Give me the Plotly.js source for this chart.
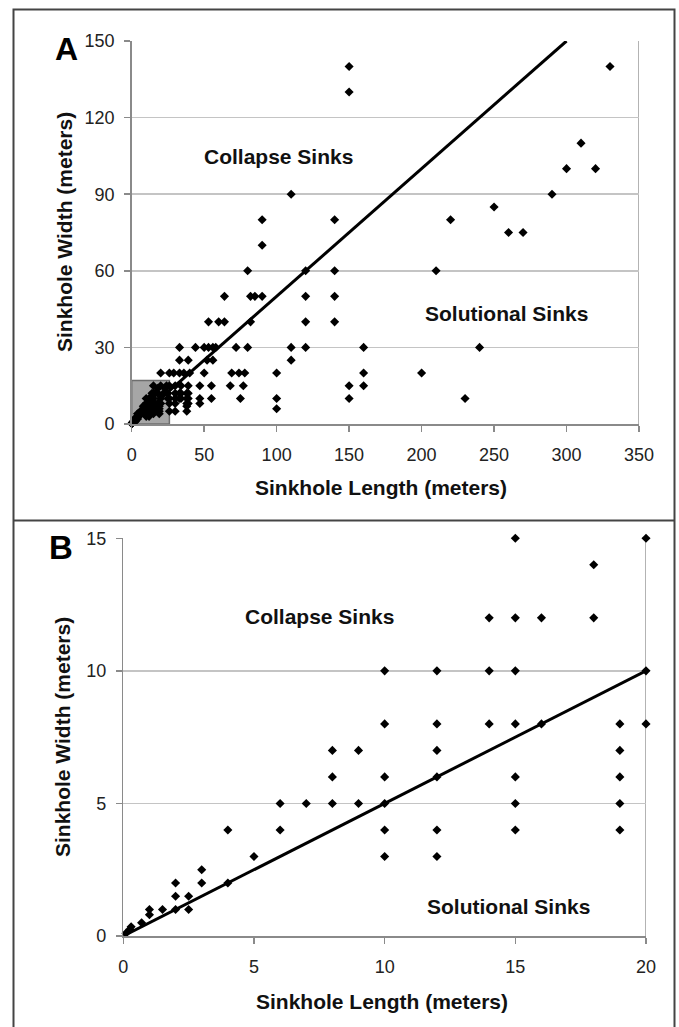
<!DOCTYPE html>
<html>
<head>
<meta charset="utf-8">
<script src="https://cdn.plot.ly/plotly-3.0.1.min.js"></script>
<style>html,body{margin:0;padding:0;background:#fff;}#chart{width:679px;height:1027px;}</style>
</head>
<body>
<div id="chart"></div>
<script>
// Panel B data (small sinkholes, meters)
const lengthB = [0.1,0.25,0.3,0.7,1,1,1.5,2,2,2,2.5,2.5,3,3,4,4,5,6,6,7,8,8,8,9,9,
  10,10,10,10,10,10,12,12,12,12,12,12,14,14,14,15,15,15,15,15,15,15,16,16,18,18,19,19,19,19,19,20,20,20];
const widthB  = [0.1,0.25,0.35,0.5,1,0.8,1,1,1.5,2,1.5,1,2,2.5,2,4,3,4,5,5,5,6,7,5,7,
  3,4,5,6,8,10,3,4,6,7,8,10,8,10,12,4,5,6,8,10,12,15,8,12,12,14,4,5,6,7,8,8,10,15];

// Additional panel A data (larger sinkholes, meters)
const lengthExtra = [22,23,24,25,25,26,26,26,
  20,26,29,33,36,40,50,69,74,78,100,
  30,34,39,47,55,68,77,150,160,
  30,33,34,38,39,
  26,30,33,34,38,39,47,55,75,100,150,230,
  30,38,39,47,38,38,30,100,
  33,39,52,56,110,
  33,44,50,53,56,58,72,80,110,120,160,240,
  53,60,64,82,120,140,
  64,82,85,90,120,140,
  80,120,140,210,
  90,90,140,110,220,250,260,270,290,300,320,310,150,150,330,200,160];
const widthExtra = [12,14,15,10,12,5,8,15,
  20,20,20,20,20,20,20,20,20,20,20,
  15,15,15,15,15,15,15,15,15,
  12,12,12,12,12,
  10,10,10,10,10,10,10,10,10,10,10,10,
  8,8,8,8,7,5,5,6,
  25,25,25,25,25,
  30,30,30,30,30,30,30,30,30,30,30,30,
  40,40,40,40,40,40,
  50,50,50,50,50,50,
  60,60,60,60,
  70,80,80,90,80,85,75,75,90,100,100,110,130,140,140,20,20];

const lengthA = lengthB.concat(lengthExtra);
const widthA  = widthB.concat(widthExtra);

// Dividing lines (width = 0.5 x length)
const divLineAx = [0, 300], divLineAy = [0, 150];
const divLineBx = [0, 20],  divLineBy = [0, 10];

// Highlight box in panel A (extent of panel B)
const boxX = [0, 26], boxY = [0, 17];

const ticksAx = [0,50,100,150,200,250,300,350];
const ticksAy = [0,30,60,90,120,150];
const ticksBx = [0,5,10,15,20];
const ticksBy = [0,5,10,15];

const FONT = '"Liberation Sans", Arial, sans-serif';
const W = 679, H = 1027;
const px = v => v / W, py = v => 1 - v / H;

const marker = {symbol:'diamond', size:7, color:'#000'};
const traces = [
  {x:lengthA, y:widthA, xaxis:'x', yaxis:'y', mode:'markers', type:'scatter', marker:marker, cliponaxis:false},
  {x:divLineAx, y:divLineAy, xaxis:'x', yaxis:'y', mode:'lines', type:'scatter', line:{color:'#000', width:3}, cliponaxis:false},
  {x:lengthB, y:widthB, xaxis:'x2', yaxis:'y2', mode:'markers', type:'scatter', marker:marker, cliponaxis:false},
  {x:divLineBx, y:divLineBy, xaxis:'x2', yaxis:'y2', mode:'lines', type:'scatter', line:{color:'#000', width:3}, cliponaxis:false}
];

const axCommon = {
  showline:true, linecolor:'#8a8a8a', linewidth:1.5, mirror:false,
  ticks:'outside', ticklen:6, tickcolor:'#8a8a8a', tickwidth:1.5,
  tickfont:{family:FONT, size:18, color:'#222'}, zeroline:false, fixedrange:true
};

const layout = {
  width:W, height:H, margin:{l:0,r:0,t:0,b:0},
  paper_bgcolor:'#fff', plot_bgcolor:'#fff', showlegend:false,
  xaxis: Object.assign({}, axCommon, {domain:[px(131.7), px(639)], range:[0,350], tickvals:ticksAx, showgrid:false, anchor:'y', ticklabelstandoff:8}),
  yaxis: Object.assign({}, axCommon, {domain:[py(424), py(41)], range:[0,150], tickvals:ticksAy, showgrid:true, gridcolor:'#c4c4c4', gridwidth:1.5, anchor:'x', ticklabelstandoff:6}),
  xaxis2: Object.assign({}, axCommon, {domain:[px(123.3), px(646)], range:[0,20], tickvals:ticksBx, showgrid:false, anchor:'y2', ticklabelstandoff:8}),
  yaxis2: Object.assign({}, axCommon, {domain:[py(936), py(538.3)], range:[0,15], tickvals:ticksBy, showgrid:true, gridcolor:'#c4c4c4', gridwidth:1.5, anchor:'x2', ticklabelstandoff:6}),
  shapes: [
    {type:'rect', xref:'x', yref:'y', x0:boxX[0], x1:boxX[1], y0:boxY[0], y1:boxY[1], fillcolor:'#a6a6a6', line:{color:'#6e6e6e', width:1.5}, layer:'below'},
    {type:'line', xref:'x', yref:'y', x0:350, x1:350, y0:0, y1:150, line:{color:'#9a9a9a', width:1.5}, layer:'below'},
    {type:'line', xref:'x2', yref:'y2', x0:20, x1:20, y0:0, y1:15, line:{color:'#9a9a9a', width:1.5}, layer:'below'},
    {type:'rect', xref:'paper', yref:'paper', x0:px(13.5), x1:px(674.5), y0:-0.01, y1:py(9.5), line:{color:'#444', width:2}, fillcolor:'rgba(0,0,0,0)'},
    {type:'line', xref:'paper', yref:'paper', x0:px(13.5), x1:px(674.5), y0:py(520.5), y1:py(520.5), line:{color:'#444', width:2}}
  ],
  annotations: [
    {text:'<b>A</b>', xref:'paper', yref:'paper', x:px(66), y:py(49), showarrow:false, xanchor:'center', yanchor:'middle', font:{family:FONT, size:32, color:'#000'}},
    {text:'<b>B</b>', xref:'paper', yref:'paper', x:px(61), y:py(547), showarrow:false, xanchor:'center', yanchor:'middle', font:{family:FONT, size:33, color:'#000'}},
    {text:'<b>Sinkhole Length (meters)</b>', xref:'paper', yref:'paper', x:px(381), y:py(487), showarrow:false, xanchor:'center', yanchor:'middle', font:{family:FONT, size:21, color:'#111'}},
    {text:'<b>Sinkhole Width (meters)</b>', xref:'paper', yref:'paper', x:px(64), y:py(232), textangle:-90, showarrow:false, xanchor:'center', yanchor:'middle', font:{family:FONT, size:21, color:'#111'}},
    {text:'<b>Sinkhole Length (meters)</b>', xref:'paper', yref:'paper', x:px(381.7), y:py(1001.7), showarrow:false, xanchor:'center', yanchor:'middle', font:{family:FONT, size:21, color:'#111'}},
    {text:'<b>Sinkhole Width (meters)</b>', xref:'paper', yref:'paper', x:px(62), y:py(737), textangle:-90, showarrow:false, xanchor:'center', yanchor:'middle', font:{family:FONT, size:21, color:'#111'}},
    {text:'<b>Collapse Sinks</b>', xref:'x', yref:'y', x:101, y:104.6, showarrow:false, font:{family:FONT, size:21, color:'#111'}},
    {text:'<b>Solutional Sinks</b>', xref:'x', yref:'y', x:258.8, y:43.1, showarrow:false, font:{family:FONT, size:21, color:'#111'}},
    {text:'<b>Collapse Sinks</b>', xref:'x2', yref:'y2', x:7.52, y:12.05, showarrow:false, font:{family:FONT, size:21, color:'#111'}},
    {text:'<b>Solutional Sinks</b>', xref:'x2', yref:'y2', x:14.75, y:1.1, showarrow:false, font:{family:FONT, size:21, color:'#111'}}
  ]
};

Plotly.newPlot('chart', traces, layout, {displayModeBar:false, staticPlot:true});
</script>
</body>
</html>
